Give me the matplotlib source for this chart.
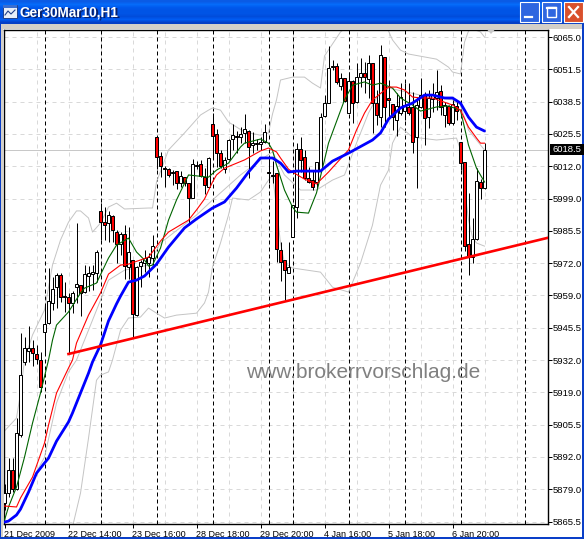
import numpy as np
import matplotlib
matplotlib.use("Agg")
import matplotlib.pyplot as plt
from matplotlib.patches import Rectangle, Polygon

# ---------- data ----------
title = "Ger30Mar10,H1"
watermark = "www.brokerrvorschlag.de"
open_ = [5873.1,5877.2,5886.7,5878.9,5901.1,5931.2,5935.7,5936.9,5934.5,5932.0,5943.5,5947.2,5955.5,5962.0,5967.0,5958.3,5957.9,5955.5,5962.0,5962.9,
 5960.0,5966.6,5967.4,5967.8,5993.4,5988.8,5988.4,5991.3,5984.7,5979.8,5983.9,5970.3,5973.2,5950.5,5970.7,5971.9,5971.9,5974.0,6023.8,6016.0,
 6011.0,6010.6,6009.4,6009.8,6004.9,6007.3,6004.9,5998.7,6012.3,6012.7,6007.3,6003.2,6029.2,6025.1,6017.2,6010.6,6014.8,6023.0,6024.2,6023.8,
 6025.5,6026.3,6020.5,6020.9,6020.9,6021.8,6009.4,6008.2,6009.0,5977.3,5973.2,5967.8,5982.6,5995.0,6018.9,6015.6,6006.9,6006.1,6005.3,6010.2,
 6032.5,6037.8,6053.1,6053.1,6044.8,6048.1,6033.7,6046.9,6038.2,6048.5,6050.2,6047.7,6054.3,6037.8,6032.0,6056.8,6039.9,6037.4,6030.8,6033.7,
 6034.5,6036.2,6036.2,6023.8,6036.2,6041.1,6032.0,6039.5,6039.9,6042.8,6032.9,6036.6,6029.6,6036.6,6021.8,6013.5,5979.8,5974.4,5981.8,6005.3,6002.8]
high = [5880.9,5891.6,5891.6,5908.1,5943.1,5941.4,5946.0,5940.2,5938.2,5935.3,5955.5,5969.9,5966.2,5967.8,5967.8,5964.1,5959.6,5960.4,5988.4,5962.9,
 5971.1,5970.7,5971.1,5977.3,5996.6,5995.0,5993.4,5991.7,5985.5,5984.7,5987.6,5986.8,5973.2,5970.7,5973.2,5977.3,5976.1,5983.5,6023.8,6017.7,
 6011.9,6011.0,6010.2,6009.8,6009.8,6007.3,6004.9,6014.8,6013.9,6014.4,6011.0,6015.6,6033.7,6027.1,6018.5,6015.6,6023.0,6029.2,6026.3,6027.9,
 6033.3,6026.7,6025.9,6023.0,6023.8,6029.2,6016.4,6013.9,6009.0,5980.6,5973.2,5980.6,5995.8,6021.3,6023.8,6018.5,6011.5,6010.2,6013.5,6033.7,
 6041.1,6061.3,6055.5,6054.3,6050.2,6048.1,6050.6,6047.3,6054.3,6056.3,6054.7,6057.6,6054.3,6043.2,6061.7,6056.8,6047.3,6037.4,6041.9,6046.0,
 6046.0,6046.0,6042.4,6040.3,6048.1,6042.4,6043.2,6046.0,6051.4,6045.2,6038.2,6037.0,6039.1,6039.1,6021.8,6013.5,6000.8,5990.5,6011.0,6006.5,6021.3]
low = [5870.2,5875.6,5877.6,5878.5,5900.3,5930.0,5931.2,5929.5,5930.4,5918.8,5934.9,5946.8,5952.6,5953.4,5955.9,5951.8,5934.9,5951.3,5955.5,5950.1,
 5959.6,5960.4,5960.8,5964.1,5981.4,5981.4,5980.6,5980.6,5971.9,5975.2,5965.3,5965.3,5941.4,5950.1,5962.0,5968.2,5966.2,5971.1,6010.6,6007.3,
 6003.2,6007.3,6004.0,6002.4,6003.2,6003.6,5987.6,5998.7,6010.6,6007.3,6000.3,6003.2,6015.6,6011.5,6011.0,6009.0,6014.4,6018.5,6017.2,6021.3,
 6021.3,6006.9,6017.2,6018.5,6018.5,6021.3,6004.9,6004.9,5972.3,5964.5,5956.7,5967.8,5982.6,5990.5,6009.4,6006.1,6004.9,6002.0,6002.8,6010.2,
 6032.0,6037.8,6051.4,6045.6,6043.2,6038.2,6033.7,6029.6,6037.8,6044.4,6041.9,6039.9,6025.5,6028.8,6027.9,6027.9,6031.6,6026.7,6024.2,6032.9,
 6030.8,6032.9,6017.2,6002.8,6035.8,6020.5,6027.5,6034.1,6034.9,6032.9,6027.9,6028.8,6028.8,6030.8,6010.2,5976.9,5967.0,5971.9,5981.4,5998.3,6002.4]
close = [5877.2,5886.7,5878.9,5901.9,5925.8,5936.9,5936.9,5934.9,5932.4,5920.9,5946.8,5956.3,5961.2,5967.0,5957.9,5957.9,5955.5,5959.6,5963.3,5959.6,
 5967.4,5967.8,5968.2,5976.5,5988.8,5987.6,5991.7,5985.5,5979.8,5983.9,5970.7,5976.5,5950.9,5970.3,5972.3,5974.0,5974.4,5978.9,6015.6,6011.9,
 6010.6,6008.2,6009.0,6004.9,6007.8,6004.9,5998.7,6012.7,6011.9,6007.8,6004.0,6015.2,6024.2,6017.2,6011.9,6014.4,6022.6,6024.6,6023.8,6025.1,
 6027.1,6019.7,6021.3,6021.3,6021.8,6025.9,6009.0,6007.8,5977.7,5972.3,5969.0,5970.3,5995.8,6018.9,6014.4,6006.9,6005.3,6003.2,6013.5,6032.0,
 6037.8,6052.2,6052.6,6046.5,6048.1,6038.6,6046.9,6037.8,6048.5,6050.2,6048.5,6054.3,6037.8,6032.9,6057.6,6036.2,6039.1,6032.0,6036.6,6040.3,
 6037.0,6033.7,6021.8,6037.0,6041.1,6031.6,6039.9,6041.1,6042.4,6036.2,6037.0,6029.6,6037.4,6034.5,6013.1,5978.9,5974.4,5981.8,6005.7,6002.8,6018.5]

blue_x = [0,1,3,4,6,8,10,11,13,16,17,19,21,22,24,26,28,29,31,33,35,38,41,45,48,52,55,58,61,64,67,69,71,73,79,82,86,92,94,96,99,102,105,107,110,112,114,116,118,120]
blue_y = [5865.3,5865.7,5868.2,5870.6,5877.6,5885.4,5889.6,5891.6,5898.6,5906.5,5910.2,5918.4,5926.6,5931.2,5938.2,5948.1,5955.1,5958.3,5964.1,5964.9,5966.6,5971.5,5978.5,5986.4,5990.1,5994.6,5997.1,6002.8,6009.4,6015.2,6015.2,6013.1,6009.4,6009.8,6009.8,6013.9,6017.2,6022.6,6025.5,6031.2,6035.8,6037.8,6041.1,6041.1,6039.9,6039.9,6037.8,6032.0,6027.9,6026.3]

red_x = [0,3,4,7,10,11,13,16,17,18,21,24,26,29,31,34,36,37,39,41,46,48,50,52,53,55,60,64,66,68,69,71,72,75,78,81,86,88,90,92,96,98,100,102,104,107,112,114,116,118,119,120]
red_y = [5871.9,5871.5,5875.2,5883.8,5897.8,5905.2,5918.4,5928.7,5932.0,5939.0,5950.5,5959.6,5967.4,5971.1,5971.5,5973.2,5974.4,5976.5,5981.0,5984.7,5989.6,5993.8,5998.3,6005.3,6008.2,6011.0,6014.4,6018.1,6019.3,6017.7,6015.2,6010.6,6009.4,6006.5,6004.5,6009.4,6018.5,6026.7,6033.7,6039.1,6044.4,6044.4,6043.2,6040.3,6039.9,6039.9,6037.0,6034.9,6027.9,6023.4,6021.3,6021.3]

green_x = [0,1,3,5,7,9,11,12,13,16,19,20,23,26,28,31,33,35,36,37,39,41,43,46,51,53,56,59,60,64,66,67,68,70,72,73,76,78,80,81,85,87,90,92,94,97,99,102,104,108,111,114,116,118,120]
green_y = [5866.1,5871.5,5879.7,5892.0,5906.0,5918.4,5932.0,5940.2,5946.4,5951.8,5959.6,5961.6,5963.7,5974.0,5979.3,5982.2,5976.5,5973.2,5970.7,5971.1,5978.1,5989.6,5997.9,6008.2,6007.3,6010.2,6013.1,6019.7,6021.3,6023.0,6021.3,6018.5,6012.3,6002.0,5995.0,5992.9,5992.5,6000.8,6014.4,6021.3,6039.1,6045.2,6046.5,6045.2,6046.0,6044.0,6039.9,6037.0,6034.5,6036.2,6036.6,6034.9,6020.5,6011.0,6005.3]

upper_x = [0,3,4,5,7,10,12,14,16,18,19,21,22,24,26,28,30,36,37,38,41,45,49,51,52,54,56,60,64,66,67,68,69,72,75,77,79,80,84,85,86,95,96,97,99,101,108,111,112,114,115,116,117,119,120]
upper_y = [5902.8,5908.1,5918.4,5932.0,5942.3,5952.6,5971.1,5981.4,5988.8,5993.4,5993.4,5990.5,5984.7,5988.4,5995.0,5996.6,5994.2,5994.6,5994.6,6005.3,6018.5,6025.5,6032.9,6034.9,6035.8,6034.9,6030.0,6025.9,6024.6,6025.5,6033.3,6039.1,6047.3,6048.5,6048.5,6046.0,6044.0,6057.2,6067.1,6068.3,6070.4,6070.4,6067.5,6063.8,6059.6,6058.0,6055.9,6052.6,6050.6,6049.8,6062.9,6067.5,6068.3,6067.1,6065.0]

lower_x = [17,19,21,23,24,26,27,29,31,34,36,38,40,43,48,50,51,52,54,56,57,61,64,66,67,68,69,70,72,79,82,86,89,92,94,96,97,99,102,108,113,114,115,116,117,118,120]
lower_y = [5863.3,5877.2,5899.8,5923.7,5925.8,5927.1,5932.0,5944.3,5949.3,5949.7,5953.4,5951.3,5949.3,5950.5,5951.3,5955.5,5960.0,5970.3,5980.2,5991.7,5998.7,5997.9,6001.2,6006.1,6008.2,5995.0,5980.2,5971.9,5969.9,5968.2,5962.0,5960.0,5971.9,5987.6,6004.0,6010.2,6021.3,6027.9,6023.8,6022.6,6023.4,6018.5,6003.2,5989.6,5982.6,5980.2,5978.9]

mid_x = [8,10,13,16,18,21,26,30,36,39,48,52,59,64,67,70,74,78,82,85,88,91,93,96,104,112,114,116,120]
mid_y = [5885.9,5892.0,5914.3,5927.1,5932.0,5944.3,5964.9,5969.0,5971.1,5980.2,5991.7,5997.9,6008.2,6014.4,6017.7,6008.2,6002.0,6002.0,6006.1,6008.2,6021.3,6033.7,6039.9,6044.0,6041.1,6039.1,6037.0,6026.7,6018.5]

trend_x = [16, 135.75]
trend_y = [5934.5, 5982.3]

y_labels = ["5865.5","5879.0","5892.0","5905.5","5919.0","5932.0","5945.5","5959.0","5972.0","5985.5","5999.0","6012.0","6025.5","6038.5","6051.5","6065.0"]
x_labels = ["21 Dec 2009","22 Dec 14:00","23 Dec 16:00","28 Dec 18:00","29 Dec 20:00","4 Jan 16:00","5 Jan 18:00","6 Jan 20:00"]
x_label_bars = [0,16,32,48,64,80,96,112]
day_bars = [10,24,38,52,66,72,86,100,114,130]
last_price = 6018.5

# ---------- figure ----------
W, H = 584, 539
PX = 0.72
fig = plt.figure(figsize=(W/100, H/100), dpi=100, facecolor="white")
plt.rcParams["font.family"] = ["Liberation Sans", "DejaVu Sans"]

# window frame
bg = fig.add_axes([0, 0, 1, 1], zorder=0)
bg.set_xlim(0, W); bg.set_ylim(H, 0); bg.axis("off")
grad = np.array([[0.04,0.36,0.90],[0.02,0.42,0.98],[0.0,0.35,0.93],[0.0,0.33,0.90],[0.0,0.33,0.90],[0.0,0.30,0.86],[0.0,0.36,0.95],[0.02,0.25,0.78]])[:, None, :]
bg.imshow(grad, extent=[0, W, 24, 0], aspect="auto", interpolation="bilinear", zorder=1)
bg.set_xlim(0, W); bg.set_ylim(H, 0)
bg.add_patch(Rectangle((0, 24), W, 5, fc="#d4d0c8", ec="none", zorder=1))
bg.add_patch(Rectangle((0, 24), 3, H-24, fc="#d4d0c8", ec="none", zorder=1))
bg.add_patch(Rectangle((0, 24), 1, H-24, fc="#0a3fc8", ec="none", zorder=2))
bg.add_patch(Rectangle((582, 24), 2, H-24, fc="#0a3fc8", ec="none", zorder=2))
bg.add_patch(Rectangle((0, 537), W, 2, fc="#0a3fc8", ec="none", zorder=2))
# title icon
bg.add_patch(Rectangle((3, 5), 14, 13, fc="#e8eef8", ec="#20408a", lw=0.7, zorder=3))
bg.add_patch(Rectangle((3, 5), 14, 3, fc="#3a6ed0", ec="none", zorder=4))
bg.plot([5, 8, 11, 15], [15, 11, 14, 10], color="#20408a", lw=0.8, zorder=4)
bg.text(21, 13.5, title, color="#08206a", fontsize=9.8, fontweight="bold", va="center", ha="left", zorder=3)
bg.text(20, 12.5, title, color="white", fontsize=9.8, fontweight="bold", va="center", ha="left", zorder=4)
# window buttons
for x0, c in [(520, "#2f66e0"), (542, "#2f66e0"), (564, "#d9502c")]:
    bg.add_patch(Rectangle((x0, 2), 19, 20, fc=c, ec="white", lw=0.8, zorder=3))
bg.plot([525, 532], [17, 17], color="white", lw=1.6, zorder=4)
bg.add_patch(Rectangle((547, 7), 9, 10, fc="none", ec="white", lw=1.0, zorder=4))
bg.plot([547, 556], [8, 8], color="white", lw=1.6, zorder=4)
bg.plot([569, 578], [7, 17], color="white", lw=1.6, zorder=4)
bg.plot([569, 578], [17, 7], color="white", lw=1.6, zorder=4)

# chart
ax = fig.add_axes([3.5/W, 1-523.5/H, 544/W, 494/H], zorder=1, facecolor="white")
ax.set_xlim(-0.25, 135.75)
ax.set_ylim(5864.7, 6068.1)

ytick_pos = np.linspace(5865.5, 6065.0, 16)
ax.yaxis.tick_right()
ax.set_yticks(ytick_pos)
ax.set_yticklabels(y_labels, fontsize=6.8, color="black")
ax.set_xticks(x_label_bars)
ax.set_xticklabels(x_labels, fontsize=6.5, ha="left", color="black")
ax.tick_params(axis="y", length=3, width=PX, pad=0.8, color="black")
ax.tick_params(axis="x", length=3, width=PX, pad=2, color="black")
for s in ax.spines.values():
    s.set_linewidth(1.0); s.set_color("black")

# grid
grid_kw = dict(color="#d9d9d9", lw=PX, linestyle=(0, (4, 4)), zorder=1)
for y in ytick_pos:
    ax.axhline(y, **grid_kw)
for b in range(8, 130, 8):
    ax.axvline(b, **grid_kw)
ax.axhline(last_price, color="#c8c8c8", lw=PX, zorder=1.2)
for b in day_bars:
    ax.axvline(b, color="black", lw=PX, linestyle=(0, (4, 3)), zorder=1.5)

# bands
for xs, ys in [(upper_x, upper_y), (lower_x, lower_y), (mid_x, mid_y)]:
    ax.plot(xs, ys, color="#c4c4c4", lw=0.7, zorder=2)

# candles
o, h, l, c = map(np.array, (open_, high, low, close))
bars = np.arange(len(o))
ax.vlines(bars, l, h, color="black", lw=PX, zorder=3)
colors = ["white" if cc >= oo else "#ff0000" for oo, cc in zip(o, c)]
ax.bar(bars, np.abs(c-o), bottom=np.minimum(o, c), width=0.55, color=colors,
       edgecolor="black", linewidth=PX, zorder=4)

# moving averages
ax.plot(green_x, green_y, color="#006400", lw=0.8, zorder=5)
ax.plot(red_x, red_y, color="#ff0000", lw=0.8, zorder=5)
ax.plot(blue_x, blue_y, color="#0000ff", lw=2.0, zorder=6, solid_capstyle="round")
ax.plot(trend_x, trend_y, color="#ff0000", lw=1.9, zorder=7)

ax.text(246/W, 1-373/H, watermark, transform=fig.transFigure, fontsize=15, color="#808080",
        va="center", ha="left", zorder=8, family="Liberation Sans")

# chart-shift marker
fig.add_artist(Polygon([[487/W, 1-29.5/H], [495/W, 1-29.5/H], [491/W, 1-34/H]], closed=True,
                       transform=fig.transFigure, fc="#c8c8c8", ec="none", zorder=3))
# last price box
fig.add_artist(Rectangle((549.5/W, 1-155/H), 34.5/W, 11/H, transform=fig.transFigure, fc="black", ec="none", zorder=3))
fig.text(552.5/W, 1-149.5/H, "6018.5", color="white", fontsize=6.8, va="center", ha="left", zorder=4)

fig.savefig("out.png", dpi=100, facecolor="white")
